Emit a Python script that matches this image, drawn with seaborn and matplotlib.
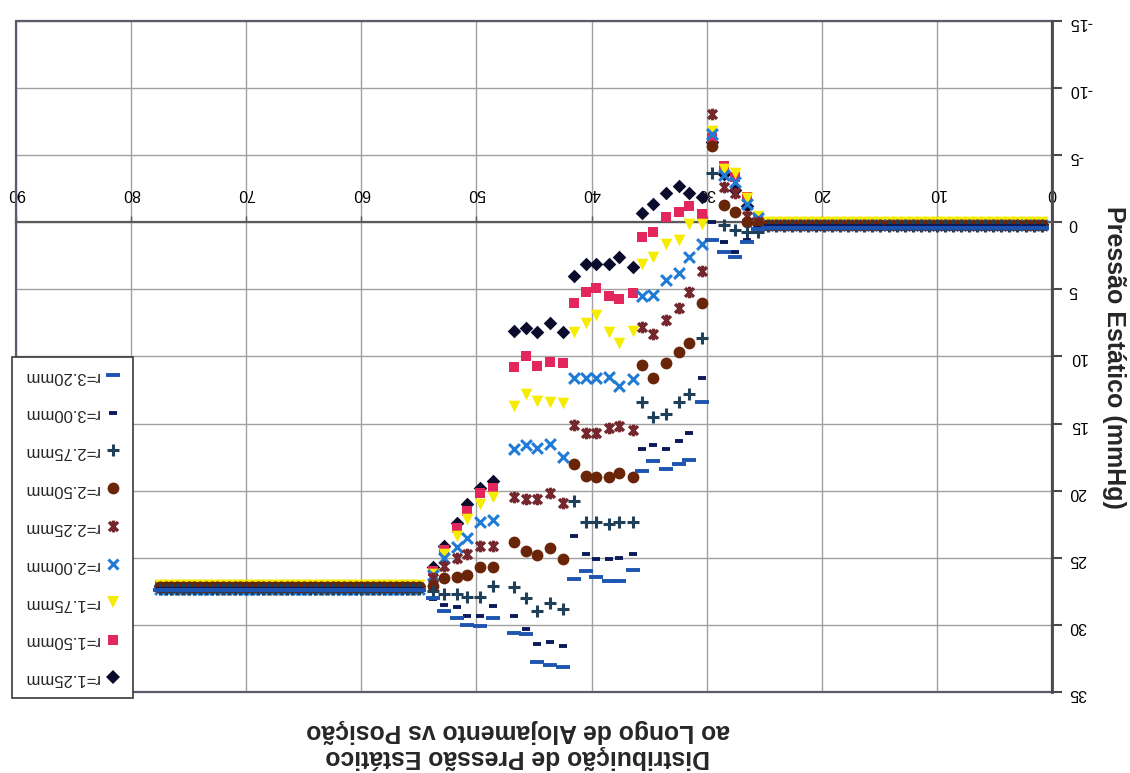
import matplotlib
matplotlib.use("Agg")
import matplotlib.pyplot as plt
from matplotlib.path import Path
from matplotlib.lines import Line2D
from matplotlib.patches import Rectangle
import pandas as pd
import seaborn as sns

# ---------------- data ----------------
series_names = ["r=1.25mm", "r=1.50mm", "r=1.75mm", "r=2.00mm", "r=2.25mm",
                "r=2.50mm", "r=2.75mm", "r=3.00mm", "r=3.20mm"]

flat_left_x = [77.5, 77.0, 76.5, 76.0, 75.5, 75.0, 74.5, 74.0, 73.5, 73.0,
               72.5, 72.0, 71.5, 71.0, 70.5, 70.0, 69.5, 69.0, 68.5, 68.0,
               67.5, 67.0, 66.5, 66.0, 65.5, 65.0, 64.5, 64.0, 63.5, 63.0,
               62.5, 62.0, 61.5, 61.0, 60.5, 60.0, 59.5, 59.0, 58.5, 58.0,
               57.5, 57.0, 56.5, 56.0, 55.5, 55.0]

main_x = [53.8, 52.8, 51.7, 50.8, 49.7, 48.6,
          46.7, 45.7, 44.7, 43.6, 42.5,
          41.5, 40.5, 39.6, 38.5, 37.6, 36.4,
          35.6, 34.7, 33.5, 32.4, 31.5, 30.4,
          29.5, 28.5, 27.5, 26.5, 25.5]

flat_right_x = [24.7, 24.0, 23.3, 22.6, 21.9, 21.2, 20.5, 19.8, 19.1, 18.4,
                17.7, 17.0, 16.3, 15.6, 14.9, 14.2, 13.5, 12.8, 12.1, 11.4,
                10.7, 10.0, 9.3, 8.6, 7.9, 7.2, 6.5, 5.8, 5.1, 4.4,
                3.7, 3.0, 2.3, 1.6, 0.9]

flat_left_level = [27.1, 27.1, 27.0, 27.3, 27.2, 27.2, 27.3, 27.3, 27.4]
flat_right_level = [0.1, 0.1, 0.0, 0.2, 0.2, 0.2, 0.3, 0.3, 0.4]

p_r125 = [25.7, 24.1, 22.4, 21.0, 19.8, 19.3,
          8.1, 7.9, 8.2, 7.5, 8.2,
          4.0, 3.1, 3.1, 3.1, 2.6, 3.3,
          -0.7, -1.4, -2.2, -2.7, -2.2, -1.9,
          -6.0, -3.6, -2.4, -1.2, -0.3]
p_r150 = [26.0, 24.4, 22.8, 21.5, 20.2, 19.8,
          10.8, 10.0, 10.7, 10.4, 10.5,
          6.0, 5.2, 4.9, 5.5, 5.7, 5.3,
          1.1, 0.75, -0.4, -0.75, -1.2, -0.6,
          -6.3, -4.2, -3.4, -1.9, -0.4]
p_r175 = [26.2, 24.7, 23.4, 22.1, 21.0, 20.5,
          13.7, 12.8, 13.3, 13.4, 13.5,
          8.2, 7.5, 6.9, 8.2, 9.0, 8.1,
          3.1, 2.6, 1.6, 1.3, 0.1, 0.1,
          -6.8, -4.0, -3.7, -1.8, -0.5]
p_r200 = [26.3, 25.0, 24.2, 23.5, 22.3, 22.2,
          16.9, 16.6, 16.8, 16.5, 17.5,
          11.6, 11.6, 11.6, 11.5, 12.2, 11.7,
          5.5, 5.4, 4.3, 3.8, 2.6, 1.6,
          -6.6, -3.5, -3.0, -1.4, -0.3]
p_r225 = [26.5, 25.6, 25.0, 24.7, 24.1, 24.1,
          20.5, 20.6, 20.6, 20.2, 20.9,
          15.1, 15.7, 15.7, 15.3, 15.2, 15.5,
          7.8, 8.3, 7.3, 6.4, 5.2, 3.6,
          -8.1, -2.6, -2.2, -0.5, 0.0]
p_r250 = [27.1, 26.5, 26.4, 26.3, 25.7, 25.7,
          23.8, 24.5, 24.8, 24.3, 25.1,
          18.0, 18.9, 19.0, 19.0, 18.7, 19.0,
          10.6, 11.6, 10.5, 9.7, 9.0, 6.0,
          -5.7, -1.3, -0.75, 0.0, 0.1]
p_r275 = [27.5, 27.7, 27.7, 27.9, 27.9, 27.1,
          27.2, 28.0, 29.0, 28.4, 28.8,
          20.8, 22.3, 22.3, 22.5, 22.3, 22.3,
          13.4, 14.5, 14.3, 13.4, 12.8, 8.6,
          -3.7, 0.2, 0.6, 0.75, 0.7]
p_r300 = [28.1, 28.5, 28.7, 29.3, 29.3, 28.6,
          29.3, 30.3, 31.4, 31.3, 31.6,
          23.4, 24.7, 25.1, 25.1, 25.0, 24.7,
          16.9, 16.6, 16.9, 16.3, 15.7, 11.6,
          0.0, 1.5, 2.2, 1.3, 0.4]
p_r320 = [28.0, 29.0, 29.5, 30.0, 30.1, 29.5,
          30.6, 30.7, 32.8, 33.0, 33.1,
          26.6, 26.0, 26.4, 26.7, 26.7, 25.9,
          18.5, 17.8, 18.4, 18.0, 17.7, 13.4,
          1.3, 2.2, 2.6, 1.5, 0.5]

main_values = [p_r125, p_r150, p_r175, p_r200, p_r225,
               p_r250, p_r275, p_r300, p_r320]

x_ticks = [0, 10, 20, 30, 40, 50, 60, 70, 80, 90]
y_ticks = [-15, -10, -5, 0, 5, 10, 15, 20, 25, 30, 35]

title_text = "Distribuição de Pressão Estático\nao Longo de Alojamento vs Posição"
ylabel_text = "Pressão Estático (mmHg)"

# ---------------- styles ----------------
star_path = Path([(-1, -1), (1, 1), (-1, 1), (1, -1), (0, -1.3), (0, 1.3)],
                 [Path.MOVETO, Path.LINETO, Path.MOVETO, Path.LINETO,
                  Path.MOVETO, Path.LINETO])

styles = [
    # marker, color, s, linewidth, filled, legend markersize
    ("D", "#0b0b2e", 48, 0, True, 7.0),
    ("s", "#e3265c", 60, 0, True, 7.5),
    ("v", "#f6ec00", 70, 0, True, 8.5),
    ("x", "#1f7bd6", 60, 2.2, False, 7.5),
    (star_path, "#74282e", 70, 2.4, False, 8.5),
    ("o", "#6a2408", 72, 0, True, 8.5),
    ("+", "#20405a", 75, 2.2, False, 8.5),
    ("_", "#0c1a5c", 30, 2.8, False, 5.5),
    ("_", "#1d55b0", 100, 2.8, False, 10.0),
]

# ---------------- build table ----------------
rows = []
for i, name in enumerate(series_names):
    xs = flat_left_x + main_x + flat_right_x
    ys = ([flat_left_level[i]] * len(flat_left_x) + main_values[i]
          + [flat_right_level[i]] * len(flat_right_x))
    for xv, yv in zip(xs, ys):
        rows.append({"series": name, "pos": xv, "pressure": yv})
df = pd.DataFrame(rows)

# ---------------- figure ----------------
sns.set_style("white")
plt.rcParams["font.family"] = ["Liberation Sans", "DejaVu Sans"]
plt.rcParams["axes.unicode_minus"] = False

W, H = 1130, 773
fig = plt.figure(figsize=(W / 100, H / 100), dpi=100)
ax_left, ax_right, ax_top, ax_bottom = 16, 1052, 21, 692
ax = fig.add_axes([ax_left / W, (H - ax_bottom) / H,
                   (ax_right - ax_left) / W, (ax_bottom - ax_top) / H])

for i, name in enumerate(series_names):
    mk, col, s, lw, filled, _ = styles[i]
    d = df[df["series"] == name]
    if filled:
        sns.scatterplot(data=d, x="pos", y="pressure", marker=mk, color=col,
                        s=s, linewidth=0, ax=ax, legend=False, zorder=3 + i)
    else:
        sns.scatterplot(data=d, x="pos", y="pressure", marker=mk, color=col,
                        edgecolor=col, s=s, linewidth=lw, ax=ax, legend=False,
                        zorder=3 + i)

ax.set_xlim(90, 0)
ax.set_ylim(35, -15)
ax.set_xticks(x_ticks)
ax.set_yticks(y_ticks)
ax.set_xlabel("")
ax.set_ylabel(ylabel_text, fontsize=18, fontweight="bold")

ax.grid(True, color="#a0a0a0", linewidth=1.0)
ax.set_axisbelow(True)

# x axis crossing at y=0, labels above (image is upside down)
ax.xaxis.set_ticks_position("top")
ax.spines["top"].set_position(("data", 0))
ax.spines["top"].set_color("#5a5a5a")
ax.spines["top"].set_linewidth(1.6)
ax.spines["left"].set_visible(False)
ax.spines["bottom"].set_visible(False)
ax.tick_params(axis="x", direction="out", length=4, width=1, colors="#5a5a5a",
               labelcolor="black", labelsize=11.5, pad=11, labelrotation=180)

# y axis on the right
ax.yaxis.tick_right()
ax.spines["right"].set_color("#4a4a4a")
ax.spines["right"].set_linewidth(2.0)
ax.tick_params(axis="y", direction="out", length=7, width=1.5, colors="#4a4a4a",
               labelcolor="black", labelsize=11.5, pad=5, labelrotation=180)

ax.yaxis.set_label_position("right")
lab = ax.yaxis.label
lab.set_rotation(270)
lab.set_rotation_mode("default")
lab.set_horizontalalignment("center")
lab.set_verticalalignment("center")
ax.yaxis.set_label_coords((1114 - ax_left) / (ax_right - ax_left),
                          (ax_bottom - 357) / (ax_bottom - ax_top))

# plot-area frame
ax.add_patch(Rectangle((0, 0), 1, 1, transform=ax.transAxes, fill=False,
                       edgecolor="#5b5b6b", linewidth=1.6, clip_on=False,
                       zorder=1))

# title (upside down)
fig.text(518 / W, 1 - 744 / H, title_text, rotation=180, ha="center",
         va="center", multialignment="center", fontsize=17.8,
         fontweight="bold", linespacing=1.08)

# legend (upside down: r=3.20mm on top, marker on the right)
handles = []
for i, name in enumerate(series_names):
    mk, col, s, lw, filled, ms = styles[i]
    handles.append(Line2D([], [], linestyle="none", marker=mk, color=col,
                          markerfacecolor=col if filled else "none",
                          markeredgecolor=col,
                          markeredgewidth=(0 if filled else max(lw, 2.0)),
                          markersize=ms))
leg = fig.legend(handles=handles[::-1], labels=series_names[::-1],
                 loc="lower left", bbox_to_anchor=(12 / W, (H - 698) / H),
                 markerfirst=False, frameon=True, fancybox=False,
                 edgecolor="#3a3a3a", framealpha=1, fontsize=12,
                 labelspacing=1.37, borderpad=0.7, handlelength=1.0,
                 handletextpad=0.35, borderaxespad=0)
leg.get_frame().set_linewidth(1.2)
for t in leg.get_texts():
    t.set_rotation(180)

fig.savefig("out.png", dpi=100, facecolor="white")
